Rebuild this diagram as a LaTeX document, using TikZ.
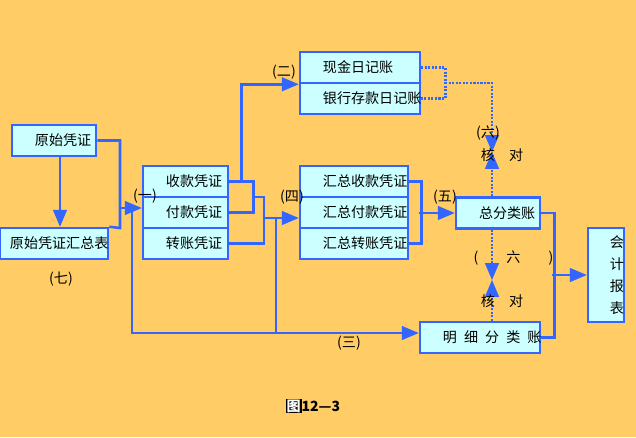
\documentclass[tikz,border=0pt]{standalone}
\usepackage{fontspec}
\setmainfont{Noto Sans CJK SC}
\usetikzlibrary{arrows,calc}
\definecolor{bgorange}{HTML}{FFCC66}
\definecolor{boxcyan}{HTML}{CCFFFF}
\definecolor{lineblue}{HTML}{3366FF}
\tikzstyle{wire} = [draw=lineblue,line width=1.8pt]
\tikzstyle{arr} = [wire,-triangle 45]
\tikzstyle{dotwire} = [wire,dash pattern=on 1.5pt off 1pt]
\tikzstyle{dotarr} = [dotwire,-triangle 45]
\tikzstyle{box} = [draw=lineblue,fill=boxcyan,line width=1.8pt,inner sep=0pt,minimum height=0.775cm,align=left,font=\fontsize{10}{12}\selectfont]
\tikzstyle{note} = [inner sep=0pt,font=\fontsize{10}{12}\selectfont]
\def \pad {\hspace*{0.575cm}}
\def \gap {\kern0.5em}

\begin{document}
\begin{tikzpicture}[x=0.025cm,y=-0.025cm]
      \path[use as bounding box,fill=bgorange] (0,0) rectangle (636,437);
      \node[box,text width=2.1cm] (ys) at (54,140.5) {\pad 原始凭证};
      \node[box,text width=2.7cm] (yshz) at (54,243.5) {\hspace*{0.25cm}原始凭证汇总表};
      \node[box,text width=2.125cm] (sk) at (185.5,181.5) {\pad 收款凭证};
      \node[box,text width=2.125cm] (fk) at (185.5,212.5) {\pad 付款凭证};
      \node[box,text width=2.125cm] (zz) at (185.5,243.5) {\pad 转账凭证};
      \node[box,text width=3cm] (xj) at (360,67.5) {\pad 现金日记账};
      \node[box,text width=3cm] (yh) at (360,98.5) {\pad 银行存款日记账};
      \node[box,text width=2.7cm] (hzs) at (354,181.5) {\pad 汇总收款凭证};
      \node[box,text width=2.7cm] (hzf) at (354,212.5) {\pad 汇总付款凭证};
      \node[box,text width=2.7cm] (hzz) at (354,243.5) {\pad 汇总转账凭证};
      \node[box,text width=2.1cm] (zfl) at (498,213) {\pad 总分类账};
      \node[box,text width=3cm] (mx) at (480,337.5) {\pad 明\gap 细\gap 分\gap 类\gap 账};
      \node[box,text width=0.9cm,minimum height=2.35cm,align=right,font=\fontsize{10}{15.5}\selectfont] (bb) at (606,275) {会\\计\\报\\表};

      \coordinate (k1) at (120,228);
      \coordinate (j1) at (120,208);
      \coordinate (j2) at (132,208);
      \coordinate (m1) at (252,197);
      \coordinate (m2) at (264,218);
      \coordinate (m3) at (276,218);
      \coordinate (d1) at (492,152);
      \coordinate (d2) at (492,280);
      \coordinate (mxin) at ($(mx.west)+(0,-4.5)$);

      \draw[arr] ($(ys.south)+(6,0)$) -- ($(yshz.north)+(6,0)$);
      \draw[wire] (ys.east) -| (k1) -- (yshz.north east);
      \draw[arr] (j1) -- (j1 -| fk.west);
      \draw[arr] (j2) |- (mxin);
      \draw[wire] (sk.east) -- ++(24,0) |- (fk.east);
      \draw[arr] ($(sk.east)+(12,0)$) |- (xj.south west);
      \draw[wire] (m1) -- ++(12,0) |- (zz.east);
      \draw[arr] (m2) -- (m2 -| hzf.west);
      \draw[wire] (m3) -- (m3 |- mxin);
      \draw[wire] (hzs.east) -- ++(12,0) |- (hzz.east);
      \draw[arr] ($(zfl.west)+(-36,0)$) -- (zfl.west);
      \draw[wire] (zfl.east) -- ++(13,0) |- (mx.east);
      \draw[arr] ($(bb.west)+(-35,0)$) -- (bb.west);

      \draw[dotwire] (xj.east) -- ++(24,0) |- (yh.east);
      \draw[dotarr] ($(xj.east)!.5!(yh.east)+(24,0)$) -| (d1);
      \draw[dotarr] ($(zfl.north)+(-6,0)$) -- (d1);
      \draw[dotarr] ($(zfl.south)+(-6,0)$) -- (d2);
      \draw[dotarr] ($(mx.north)+(12,0)$) -- (d2);

      \node[note] (q1) at (145,196) {(一)};
      \node[note] (q2) at (284,72) {(二)};
      \node[note] (q3) at (349,343) {(三)};
      \node[note] (q4) at (292,197) {(四)};
      \node[note] (q5) at (445,197) {(五)};
      \node[note] (q6a) at (488,133) {(六)};
      \node[note] (hd1) at (502,155) {核\hspace{1em}对};
      \node[note] (q6b) at (513.5,258) {(\hspace{2em}六\hspace{2em})};
      \node[note] (hd2) at (502,301) {核\hspace{1em}对};
      \node[note] (q7) at (61,279) {(七)};
      \node[note,font=\fontsize{10}{12}\selectfont\bfseries] (cap) at (313,406) {{\setlength\fboxsep{0.6pt}\colorbox{black}{\color{white}图}}12—3};
    \end{tikzpicture}
\end{document}
